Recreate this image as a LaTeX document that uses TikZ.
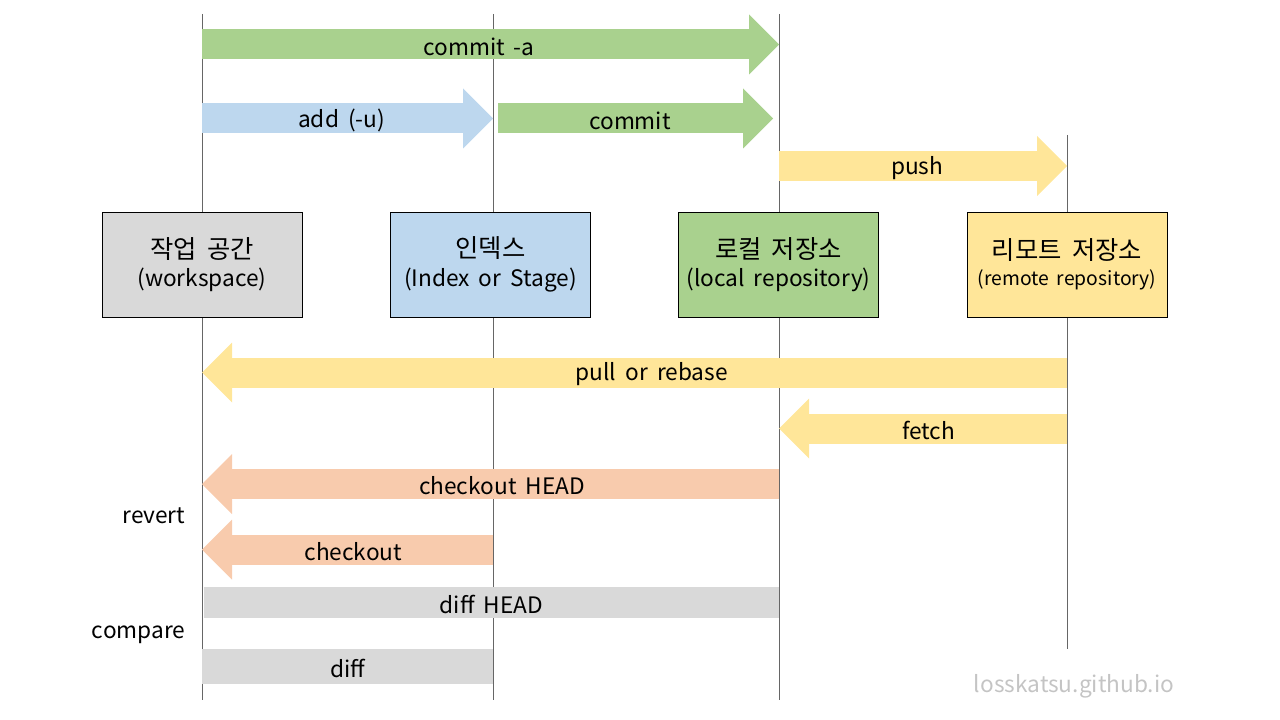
\documentclass[tikz,border=0pt]{standalone}
\usepackage{fontspec}
\setmainfont[WordSpace=1.8]{Noto Sans CJK KR}
\usetikzlibrary{arrows.meta}
\definecolor{gitgreen}{HTML}{A9D18E}
\definecolor{gitblue}{HTML}{BDD7EE}
\definecolor{gityellow}{HTML}{FFE699}
\definecolor{gitorange}{HTML}{F8CBAD}
\definecolor{gitgray}{HTML}{D9D9D9}
\definecolor{lanegray}{HTML}{666666}
\definecolor{markgray}{HTML}{C4C4C4}
\begin{document}
\begin{tikzpicture}[x=0.75pt,y=-0.75pt,
    lane/.style={draw=lanegray, line width=0.75pt},
    repo/.style={draw=black, line width=0.6pt, minimum width=150pt,
      minimum height=78.75pt, align=center, inner sep=0pt},
    flow/.style={line width=22.5pt,
      -{Triangle[width=45pt,length=22.5pt,line width=0pt]}},
    band/.style={line width=23.25pt},
    lbl/.style={font=\fontsize{17}{18}\selectfont, text=black, pos=.48,
      yshift=-1.5pt},
    side/.style={font=\fontsize{17}{18}\selectfont, anchor=east}]
  \useasboundingbox (0,0) rectangle (1280,720);
  % lanes
  \coordinate (work) at (202,264.5);
  \coordinate (index) at (493,264.5);
  \coordinate (local) at (779,264.5);
  \coordinate (remote) at (1067,264.5);
  \draw[lane] (work |- 0,14) -- (work |- 0,700);
  \draw[lane] (index |- 0,14) -- (index |- 0,700);
  \draw[lane] (local |- 0,14) -- (local |- 0,700);
  \draw[lane] (remote |- 0,135) -- (remote |- 0,649);
  % repositories
  \node[repo, fill=gitgray] (work box) at (202,264.5)
    {{\fontsize{19}{22}\selectfont 작업 공간}\\[5pt]
     {\fontsize{17}{20}\selectfont (workspace)}};
  \node[repo, fill=gitblue] (index box) at (490.5,264.5)
    {{\fontsize{19}{22}\selectfont 인덱스}\\[5pt]
     {\fontsize{17}{20}\selectfont (Index or Stage)}};
  \node[repo, fill=gitgreen] (local box) at (778.5,264.5)
    {{\fontsize{19}{22}\selectfont 로컬 저장소}\\[5pt]
     {\fontsize{17}{20}\selectfont (local repository)}};
  \node[repo, fill=gityellow] (remote box) at (1067,264.5)
    {{\fontsize{19}{22}\selectfont 리모트 저장소}\\[5pt]
     {\fontsize{14.5}{20}\selectfont (remote repository)}};
  % forward
  \draw[flow, draw=gitgreen] (work |- 0,44.5) -- node[lbl]{commit -a} (local |- 0,44.5);
  \draw[flow, draw=gitblue] (work |- 0,118.5) -- node[lbl]{add (-u)} (index |- 0,118.5);
  \draw[flow, draw=gitgreen] ([xshift=3.75pt]index |- 0,118.5) -- node[lbl]{commit} ([xshift=-4.5pt]local |- 0,118.5);
  \draw[flow, draw=gityellow] (local |- 0,166) -- node[lbl]{push} (remote |- 0,166);
  % backward
  \draw[flow, draw=gityellow] (remote |- 0,372.5) -- node[lbl]{pull or rebase} (work |- 0,372.5);
  \draw[flow, draw=gityellow] (remote |- 0,428.5) -- node[lbl]{fetch} (local |- 0,428.5);
  \draw[flow, draw=gitorange] (local |- 0,484) -- node[lbl]{checkout HEAD} (work |- 0,484);
  \draw[flow, draw=gitorange] (index |- 0,549.5) -- node[lbl]{checkout} (work |- 0,549.5);
  % compare
  \draw[band, draw=gitgray] ([xshift=1.5pt]work |- 0,602.5) -- node[lbl, pos=.5]{diff HEAD} (local |- 0,602.5);
  \draw[band, draw=gitgray, line width=26.25pt] (work |- 0,666.5) -- node[lbl, pos=.5]{diff} (index |- 0,666.5);
  \node[side] (revert) at (190,516) {revert};
  \node[side] (compare) at (190,635) {compare};
  \node[font=\fontsize{17}{18}\selectfont, text=markgray] (mark) at (1074,686) {losskatsu.github.io};
\end{tikzpicture}
\end{document}
